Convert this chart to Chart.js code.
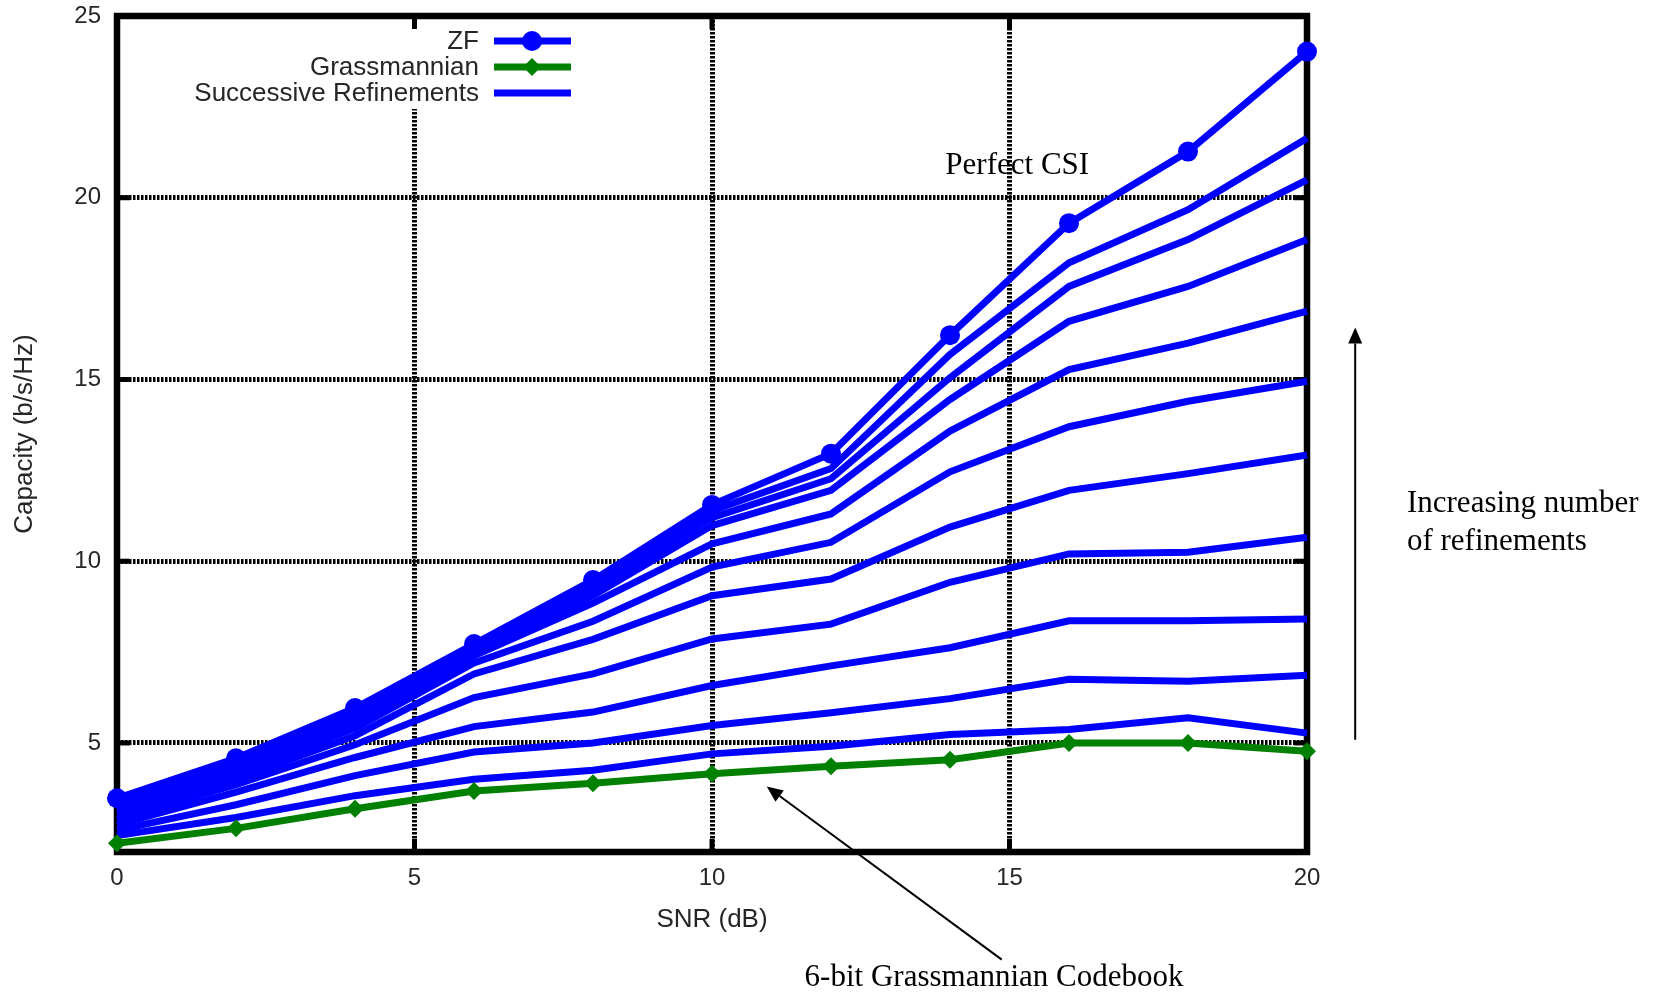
<!DOCTYPE html>
<html>
<head>
<meta charset="utf-8">
<style>
  body { margin: 0; background: #fff; }
  #wrap { width: 1663px; height: 995px; }
</style>
</head>
<body>
<div id="wrap"><canvas id="grafica"></canvas></div>
<script src="https://cdn.jsdelivr.net/npm/chart.js"></script>
<script>
// SNR (dB) values on the x axis
const snr = [0, 2, 4, 6, 8, 10, 12, 14, 16, 18, 20];

// ZF with perfect CSI (circles)
const zf = [3.48, 4.58, 5.96, 7.72, 9.48, 11.55, 12.96, 16.22, 19.30, 21.27, 24.02];
// 6-bit Grassmannian codebook
const grassmannian = [2.24, 2.65, 3.19, 3.68, 3.89, 4.15, 4.36, 4.54, 5.00, 5.00, 4.77];

// successive refinements, most refinements first
const ref10 = [3.40, 4.50, 5.85, 7.65, 9.35, 11.39, 12.55, 15.69, 18.21, 19.67, 21.64];
const ref9  = [3.35, 4.42, 5.75, 7.60, 9.20, 11.20, 12.27, 15.05, 17.56, 18.85, 20.49];
const ref8  = [3.30, 4.35, 5.65, 7.50, 9.05, 10.98, 11.95, 14.45, 16.60, 17.56, 18.85];
const ref7  = [3.25, 4.25, 5.55, 7.40, 8.85, 10.48, 11.30, 13.58, 15.27, 16.00, 16.88];
const ref6  = [3.15, 4.15, 5.40, 7.20, 8.35, 9.84, 10.52, 12.46, 13.70, 14.40, 14.95];
const ref5  = [3.05, 4.00, 5.20, 6.90, 7.85, 9.05, 9.51, 10.94, 11.95, 12.41, 12.92];
const ref4  = [2.90, 3.85, 4.95, 6.25, 6.90, 7.86, 8.27, 9.42, 10.20, 10.25, 10.66];
const ref3  = [2.75, 3.65, 4.60, 5.45, 5.85, 6.58, 7.12, 7.62, 8.36, 8.36, 8.41];
const ref2  = [2.60, 3.30, 4.10, 4.75, 5.00, 5.48, 5.83, 6.22, 6.75, 6.70, 6.86];
const ref1  = [2.45, 2.95, 3.55, 4.00, 4.25, 4.70, 4.91, 5.23, 5.37, 5.69, 5.27];
const refinements = [ref10, ref9, ref8, ref7, ref6, ref5, ref4, ref3, ref2, ref1];

// tick labels
const xTicks = [0, 5, 10, 15, 20];
const yTicks = [5, 10, 15, 20, 25];

const sans = "'Liberation Sans', Arial, sans-serif";
const serif = "'Liberation Serif', 'Times New Roman', serif";
const blue = '#0000ff';
const green = '#008000';
const txt = '#262626';

const toXY = vals => vals.map((v, i) => ({ x: snr[i], y: v }));

const datasets = [
  { label: 'ZF', data: toXY(zf), borderColor: blue, backgroundColor: blue,
    pointStyle: 'circle', pointRadius: 10 },
  { label: 'Grassmannian', data: toXY(grassmannian), borderColor: green, backgroundColor: green,
    pointStyle: 'rectRot', pointRadius: 9 }
];
refinements.forEach((r, k) => {
  datasets.push({ label: k === 0 ? 'Successive Refinements' : '', data: toXY(r),
    borderColor: blue, backgroundColor: blue, pointRadius: 0 });
});
datasets.forEach(d => {
  d.borderWidth = 7;
  d.pointBorderWidth = 0;
  d.tension = 0;
  d.fill = false;
  d.clip = false;
});

// text annotations and arrows (in data units)
const notes = [
  { text: 'Perfect CSI', x: 15.13, y: 20.64, align: 'center' },
  { text: '6-bit Grassmannian Codebook', x: 14.74, y: -1.70, align: 'center' },
  { text: 'Increasing number', x: 21.68, y: 11.36, align: 'left' },
  { text: 'of refinements', x: 21.68, y: 10.32, align: 'left' }
];
const arrows = [
  { from: [14.87, -0.96], to: [10.92, 3.80] },
  { from: [20.81, 5.09], to: [20.81, 16.43] }
];

// black frame + inward tick marks (gnuplot look)
const framePlugin = {
  id: 'frame',
  beforeDatasetsDraw(chart) {
    const { ctx, chartArea: a, scales: { x, y } } = chart;
    const seg = (x1, y1, x2, y2) => { ctx.beginPath(); ctx.moveTo(x1, y1); ctx.lineTo(x2, y2); ctx.stroke(); };
    ctx.save();
    ctx.strokeStyle = '#000';
    ctx.lineWidth = 5;
    xTicks.forEach(v => {
      const px = x.getPixelForValue(v);
      seg(px, a.bottom, px, a.bottom - 13);
      seg(px, a.top, px, a.top + 13);
    });
    yTicks.forEach(v => {
      const py = y.getPixelForValue(v);
      seg(a.left, py, a.left + 13, py);
      seg(a.right, py, a.right - 13, py);
    });
    ctx.lineWidth = 6.5;
    ctx.strokeRect(a.left, a.top, a.right - a.left, a.bottom - a.top);
    ctx.restore();
  }
};

// key in the top-left corner, text right aligned with the sample on the right
const keyPlugin = {
  id: 'key',
  afterDatasetsDraw(chart) {
    const { ctx, chartArea: a } = chart;
    ctx.save();
    ctx.fillStyle = '#fff';
    ctx.fillRect(a.left + 55, a.top + 13, 420, 80);
    ctx.font = '26px ' + sans;
    ctx.textAlign = 'right';
    ctx.textBaseline = 'middle';
    chart.data.datasets.filter(d => d.label).forEach((d, i) => {
      const yy = a.top + 25 + i * 26;
      ctx.fillStyle = txt;
      ctx.fillText(d.label, a.left + 362, yy + 1);
      ctx.strokeStyle = d.borderColor;
      ctx.lineWidth = d.borderWidth;
      ctx.beginPath();
      ctx.moveTo(a.left + 377, yy);
      ctx.lineTo(a.left + 454, yy);
      ctx.stroke();
      if (d.pointRadius) {
        ctx.fillStyle = d.backgroundColor;
        Chart.helpers.drawPoint(ctx, { pointStyle: d.pointStyle, radius: d.pointRadius, rotation: 0, borderWidth: 0 },
          a.left + 415, yy);
      }
    });
    ctx.restore();
  }
};

const notesPlugin = {
  id: 'notes',
  afterDraw(chart) {
    const { ctx, scales: { x, y } } = chart;
    ctx.save();
    ctx.fillStyle = '#000';
    ctx.strokeStyle = '#000';
    ctx.font = '31px ' + serif;
    ctx.textBaseline = 'alphabetic';
    notes.forEach(n => {
      ctx.textAlign = n.align;
      ctx.fillText(n.text, x.getPixelForValue(n.x), y.getPixelForValue(n.y));
    });
    ctx.lineWidth = 2;
    arrows.forEach(ar => {
      const x1 = x.getPixelForValue(ar.from[0]), y1 = y.getPixelForValue(ar.from[1]);
      const x2 = x.getPixelForValue(ar.to[0]), y2 = y.getPixelForValue(ar.to[1]);
      const ang = Math.atan2(y2 - y1, x2 - x1);
      const len = 16, half = 7;
      const bx = x2 - len * Math.cos(ang), by = y2 - len * Math.sin(ang);
      ctx.beginPath();
      ctx.moveTo(x1, y1);
      ctx.lineTo(bx, by);
      ctx.stroke();
      ctx.beginPath();
      ctx.moveTo(x2, y2);
      ctx.lineTo(bx + half * Math.sin(ang), by - half * Math.cos(ang));
      ctx.lineTo(bx - half * Math.sin(ang), by + half * Math.cos(ang));
      ctx.closePath();
      ctx.fill();
    });
    ctx.restore();
  }
};

new Chart(document.getElementById('grafica'), {
  type: 'line',
  data: { datasets: datasets },
  options: {
    responsive: true,
    maintainAspectRatio: false,
    animation: false,
    events: [],
    layout: { padding: { left: 0, right: 356, top: 16, bottom: 0 } },
    plugins: { legend: { display: false }, tooltip: { enabled: false } },
    scales: {
      x: {
        type: 'linear',
        min: 0,
        max: 20,
        afterBuildTicks: s => { s.ticks = xTicks.map(v => ({ value: v })); },
        afterFit: s => { s.height = 143; s.paddingLeft = 0; s.paddingRight = 0; },
        grid: { color: '#000', lineWidth: 5, drawTicks: false },
        border: { display: false, dash: [2.5, 1.5] },
        ticks: { padding: 12, color: txt, maxRotation: 0, font: { family: sans, size: 24 } },
        title: { display: true, text: 'SNR (dB)', color: txt,
                 font: { family: sans, size: 26 }, padding: { top: 0, bottom: 60 } }
      },
      y: {
        type: 'linear',
        min: 2,
        max: 25,
        afterBuildTicks: s => { s.ticks = yTicks.map(v => ({ value: v })); },
        afterFit: s => { s.width = 117; s.paddingTop = 0; s.paddingBottom = 0; },
        grid: { color: '#000', lineWidth: 5, drawTicks: false },
        border: { display: false, dash: [2.5, 1.5] },
        ticks: { padding: 16, color: txt, font: { family: sans, size: 24 } },
        title: { display: true, text: 'Capacity (b/s/Hz)', color: txt,
                 font: { family: sans, size: 26 }, padding: { top: 9, bottom: 0 } }
      }
    }
  },
  plugins: [framePlugin, keyPlugin, notesPlugin]
});
</script>
</body>
</html>
